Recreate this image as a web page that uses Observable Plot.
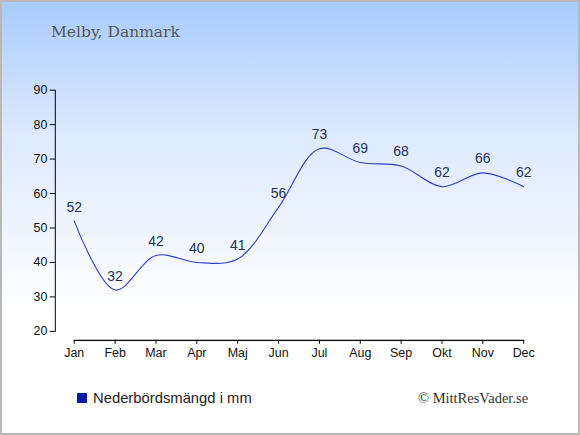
<!DOCTYPE html>
<html><head><meta charset="utf-8">
<script src="https://cdn.jsdelivr.net/npm/d3@7"></script>
<script src="https://cdn.jsdelivr.net/npm/@observablehq/plot@0.6"></script>
<style>
html,body{margin:0;padding:0;}
#wrap{position:relative;width:576px;height:431px;border:2px solid #b8b8b8;
 background:linear-gradient(to bottom,#a9cbff 0%,#dce9ff 30%,#ffffff 72%,#ffffff 100%);overflow:hidden;}
#title{position:absolute;left:49px;top:21px;font-family:"DejaVu Serif",serif;font-size:15.5px;color:#555;}
#legend{position:absolute;left:75px;top:388px;font-family:"Liberation Sans",Arial,sans-serif;font-size:14.8px;color:#222;display:flex;align-items:center;}
#legend span.sw{display:inline-block;width:10px;height:10px;background:#0a1aa8;margin-right:6px;}
#caption{position:absolute;left:416px;top:388px;font-family:"Liberation Serif",serif;font-size:14.5px;color:#333;}
#chart{position:absolute;left:-2px;top:-2px;}
</style></head>
<body>
<div id="wrap">
<div id="title">Melby, Danmark</div>
<div id="chart"></div>
<div id="legend"><span class="sw"></span>Nederbördsmängd i mm</div>
<div id="caption">© MittResVader.se</div>
</div>
<script>
const months = ["Jan","Feb","Mar","Apr","Maj","Jun","Jul","Aug","Sep","Okt","Nov","Dec"];
const precip = [52,32,42,40,41,56,73,69,68,62,66,62];
const yTicks = [20,30,40,50,60,70,80,90];
const data = months.map((m,i)=>({month:m, value:precip[i]}));
const baseline = [{m:months[0], y:yTicks[0]}, {m:months[months.length-1], y:yTicks[0]}];

const chart = Plot.plot({
  width:580, height:435,
  marginTop:90, marginBottom:103, marginLeft:55, marginRight:55,
  style:{background:"transparent", fontFamily:"Liberation Sans, Arial, sans-serif", fontSize:"12.5px", color:"#111"},
  x:{type:"point", domain:months, range:[74,525], padding:0},
  y:{domain:[20,90]},
  marks:[
    Plot.frame({anchor:"left", stroke:"#000", strokeWidth:1}),
    Plot.axisY({ticks:yTicks, tickSize:5, tickPadding:3, label:null, stroke:"#000", fill:"#111", fontSize:12.5}),
    Plot.line(baseline, {x:"m", y:"y", dy:9, stroke:"#000", strokeWidth:1.3}),
    Plot.axisX({tickSize:4, tickPadding:4, dy:9, label:null, stroke:"#000", fill:"#111", fontSize:12.5}),
    Plot.line(data, {x:"month", y:"value", curve:"catmull-rom", stroke:"#2f3fc4", strokeWidth:1.1}),
    Plot.text(data, {x:"month", y:"value", text:d=>String(d.value), dy:-14, fill:"#223355", fontSize:14})
  ]
});
document.getElementById("chart").appendChild(chart);
</script>
</body></html>
